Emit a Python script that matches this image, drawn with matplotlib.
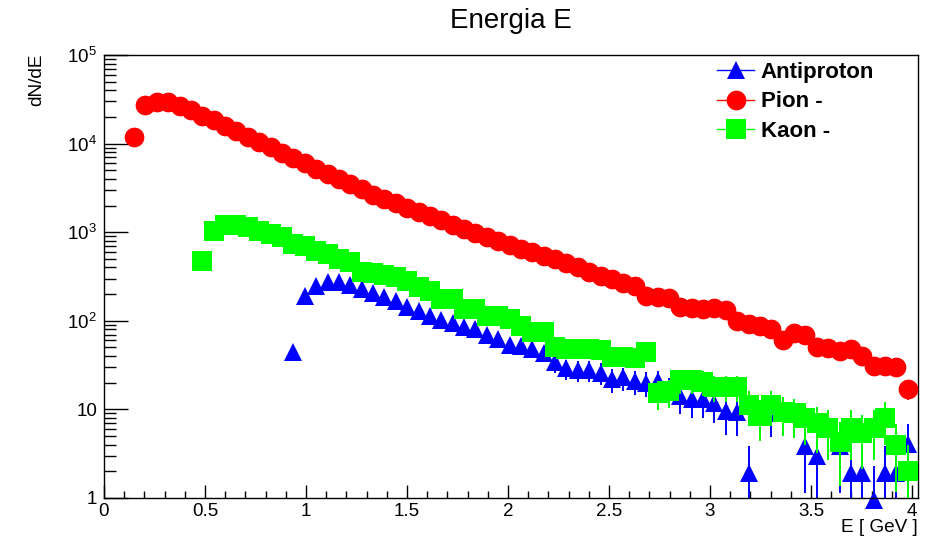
import numpy as np
import matplotlib
matplotlib.use("Agg")
import matplotlib.pyplot as plt
from matplotlib.lines import Line2D
from matplotlib.ticker import FixedLocator, LogLocator, NullFormatter, FixedFormatter

plt.rcParams["font.family"] = ["Liberation Sans", "DejaVu Sans"]
plt.rcParams["mathtext.fontset"] = "custom"
plt.rcParams["mathtext.rm"] = "Liberation Sans"
plt.rcParams["mathtext.it"] = "Liberation Sans:italic"

# ---- histogram binning in energy (GeV) ----
E_LOW, E_HIGH, N_BINS = 0.008, 4.008, 71

# ---- dN/dE per bin, starting at the first filled bin of each species ----
pion_first_bin = 2
pion_dnde = [
    12000, 27500, 29800, 29800, 26500, 23800, 20700, 18300, 16000, 13800,
    12000, 10500, 9100, 7900, 6900, 5970, 5210, 4560, 3990, 3480,
    3050, 2660, 2360, 2110, 1890, 1700, 1520, 1360, 1220, 1100,
    984, 881, 791, 710, 647, 591, 540, 492, 449, 410,
    360, 320, 295, 270, 245, 190, 187, 180, 145, 139,
    135, 140, 132, 100, 92, 88, 80, 61, 72, 70,
    50, 49, 46, 48, 40, 31, 31, 30, 17,
]

kaon_first_bin = 8
kaon_dnde = [
    473, 1040, 1200, 1200, 1150, 1040, 950, 877, 736, 705,
    620, 567, 498, 457, 353, 350, 330, 310, 284, 239,
    219, 176, 176, 136, 136, 114, 114, 105, 88, 74,
    74, 50, 48, 48, 48, 47, 39, 39, 38, 45,
    15.5, 16, 21.5, 21.5, 20.6, 18, 18, 18, 11.2, 8.5,
    11.2, 9.4, 9.0, 7.9, 7.0, 6.2, 4.3, 6.2, 5.4, 6.2,
    8.0, 4.0, 2.0,
]

antiproton_first_bin = 16
antiproton_dnde = [
    44, 190, 250, 272, 272, 252, 230, 208, 184, 167,
    142, 130, 113, 102, 94, 86, 80, 70, 62, 53,
    52, 48, 43, 34, 29, 28, 28, 26, 22, 23,
    21, 20, 21, 17, 14, 13, 13, 11.8, 9.5, 9.3,
    1.94, np.nan, 9.0, np.nan, np.nan, 3.9, 3.0, np.nan, 3.9, 1.94,
    1.94, 0.95, 1.94, 1.94, 4.07,
]

# weight carried by a single entry (sets the statistical error bars)
pion_weight = 1.0
kaon_weight = 2.0
antiproton_weight = 1.94

series_labels = ["Antiproton", "Pion -", "Kaon -"]
series_colors = ["#0000ff", "#ff0000", "#00ff00"]

x_ticks = [0, 0.5, 1, 1.5, 2, 2.5, 3, 3.5, 4]
x_tick_labels = ["0", "0.5", "1", "1.5", "2", "2.5", "3", "3.5", "4"]
y_ticks = [1, 10, 1e2, 1e3, 1e4, 1e5]
y_tick_labels = ["1", "10", r"$\mathregular{10^{2}}$", r"$\mathregular{10^{3}}$",
                 r"$\mathregular{10^{4}}$", r"$\mathregular{10^{5}}$"]

edges = np.linspace(E_LOW, E_HIGH, N_BINS + 1)
centers = 0.5 * (edges[:-1] + edges[1:])

W, H = 929, 544
fig = plt.figure(figsize=(W / 100, H / 100), dpi=100)
ax = fig.add_axes([104 / W, 1 - 498 / H, (918 - 104) / W, (498 - 55) / H])


def draw_hist(first_bin, values, weight, color, marker, ms, z):
    v = np.asarray(values, dtype=float)
    x = centers[first_bin:first_bin + len(v)]
    ok = ~np.isnan(v)
    x, v = x[ok], v[ok]
    err = np.sqrt(v * weight)
    lo = np.clip(v - err, 1e-3, None)
    ax.vlines(x, lo, v + err, colors=color, linewidth=1.4, zorder=z)
    ax.plot(x, v, linestyle="none", marker=marker, markersize=ms,
            markeredgewidth=0, color=color, zorder=z + 0.1, clip_on=False)


draw_hist(antiproton_first_bin, antiproton_dnde, antiproton_weight,
          series_colors[0], "^", 13.0, 2)
draw_hist(pion_first_bin, pion_dnde, pion_weight,
          series_colors[1], "o", 14.2, 3)
draw_hist(kaon_first_bin, kaon_dnde, kaon_weight,
          series_colors[2], "s", 14.4, 4)

ax.set_yscale("log")
ax.set_xlim(0, 4.03)
ax.set_ylim(1, 1e5)

ax.xaxis.set_major_locator(FixedLocator(x_ticks))
ax.xaxis.set_major_formatter(FixedFormatter(x_tick_labels))
ax.xaxis.set_minor_locator(FixedLocator(np.arange(0, 4.03, 0.1)))
ax.yaxis.set_major_locator(FixedLocator(y_ticks))
ax.yaxis.set_major_formatter(FixedFormatter(y_tick_labels))
ax.yaxis.set_minor_locator(LogLocator(base=10, subs=np.arange(2, 10)))
ax.yaxis.set_minor_formatter(NullFormatter())

ax.tick_params(which="both", direction="in", top=False, right=False,
               width=1.0, color="black", labelsize=13.5)
ax.tick_params(axis="x", which="major", length=9.4, pad=3.5)
ax.tick_params(axis="x", which="minor", length=5.0)
ax.tick_params(axis="y", which="major", length=17.3, pad=5)
ax.tick_params(axis="y", which="minor", length=8.6)
for s in ax.spines.values():
    s.set_linewidth(1.0)

fig.text(511 / W, 1 - 21 / H, "Energia E", ha="center", va="center", fontsize=20)
fig.text(918 / W, 1 - 527 / H, "E [ GeV ]", ha="right", va="center", fontsize=13.7)
fig.text(37 / W, 1 - 53 / H, "dN/dE", rotation=90, ha="center", va="top", fontsize=13.7)

handles = [
    Line2D([], [], color=series_colors[0], marker="^", markersize=13.0, markeredgewidth=0, linewidth=1.0),
    Line2D([], [], color=series_colors[1], marker="o", markersize=14.2, markeredgewidth=0, linewidth=1.0),
    Line2D([], [], color=series_colors[2], marker="s", markersize=14.4, markeredgewidth=0, linewidth=1.0),
]
fs = 16
fig.legend(handles, series_labels, loc="upper left",
           bbox_to_anchor=(717 / W, 1 - 62 / H), frameon=False,
           prop=dict(weight="bold", size=fs), handlelength=1.67,
           handletextpad=0.3, labelspacing=0.38, borderpad=0, borderaxespad=0)

fig.savefig("out.png", dpi=100)
